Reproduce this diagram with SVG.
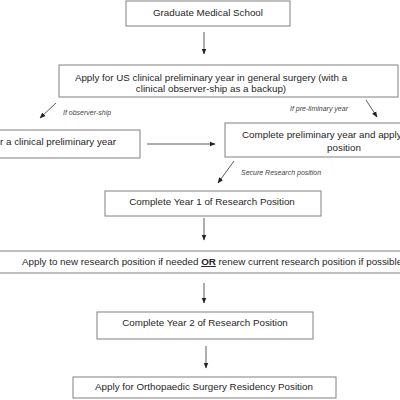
<svg xmlns="http://www.w3.org/2000/svg" width="400" height="400" viewBox="0 0 400 400">
<style>
.box{fill:#fff;stroke:#808080;stroke-width:1}
.t{font-family:"Liberation Sans",Arial,sans-serif;font-size:9.8px;fill:#262626;text-anchor:middle}
.lbl{font-family:"Liberation Sans",Arial,sans-serif;font-size:7px;font-style:italic;fill:#444}
.c{stroke:#333;stroke-width:0.8;fill:none;marker-end:url(#ah)}
</style>
<defs>
<marker id="ah" viewBox="0 0 10 10" refX="9" refY="5" markerWidth="6" markerHeight="6" orient="auto" markerUnits="userSpaceOnUse">
<path d="M0,1 L10,5 L0,9 z" fill="#222"/>
</marker>
</defs>
<rect width="400" height="400" fill="#fff"/>
<g id="n1"><rect class="box" x="126" y="1" width="164" height="25"/><text class="t" x="208" y="16">Graduate Medical School</text></g>
<g id="n2"><rect class="box" x="59" y="65" width="339" height="32"/><text class="t" x="211" y="81">Apply for US clinical preliminary year in general surgery (with a</text><text class="t" x="211" y="92">clinical observer-ship as a backup)</text></g>
<g id="n3"><rect class="box" x="-60" y="130" width="200" height="28"/><text class="t" x="0" y="145" style="text-anchor:start">r a clinical preliminary year</text></g>
<g id="n4"><rect class="box" x="225" y="123" width="240" height="34"/><text class="t" x="242" y="138" style="text-anchor:start">Complete preliminary year and apply</text><text class="t" x="344" y="151">position</text></g>
<g id="n5"><rect class="box" x="105" y="191" width="216" height="25"/><text class="t" x="212" y="205">Complete Year 1 of Research Position</text></g>
<g id="n6"><rect class="box" x="-5" y="251" width="410" height="22"/><text class="t" x="22" y="265" style="text-anchor:start">Apply to new research position if needed <tspan font-weight="bold" text-decoration="underline">OR</tspan> renew current research position if possible</text></g>
<g id="n7"><rect class="box" x="97" y="312" width="216" height="27"/><text class="t" x="205" y="326">Complete Year 2 of Research Position</text></g>
<g id="n8"><rect class="box" x="73" y="377" width="263" height="21"/><text class="t" x="204" y="390">Apply for Orthopaedic Surgery Residency Position</text></g>
<g id="connectors">
<line class="c" x1="204" y1="32" x2="204" y2="54"/>
<line class="c" x1="56" y1="103" x2="40" y2="118"/>
<line class="c" x1="366" y1="100" x2="377" y2="117"/>
<line class="c" x1="147" y1="144" x2="215" y2="144"/>
<line class="c" x1="234" y1="161" x2="218" y2="183"/>
<line class="c" x1="204" y1="218" x2="204" y2="240"/>
<line class="c" x1="204" y1="283" x2="204" y2="303"/>
<line class="c" x1="206" y1="346" x2="206" y2="368"/>
<text class="lbl" x="63" y="115">If observer-ship</text>
<text class="lbl" x="290" y="111">If pre-liminary year</text>
<text class="lbl" x="241" y="175">Secure Research position</text>
</g>
</svg>
